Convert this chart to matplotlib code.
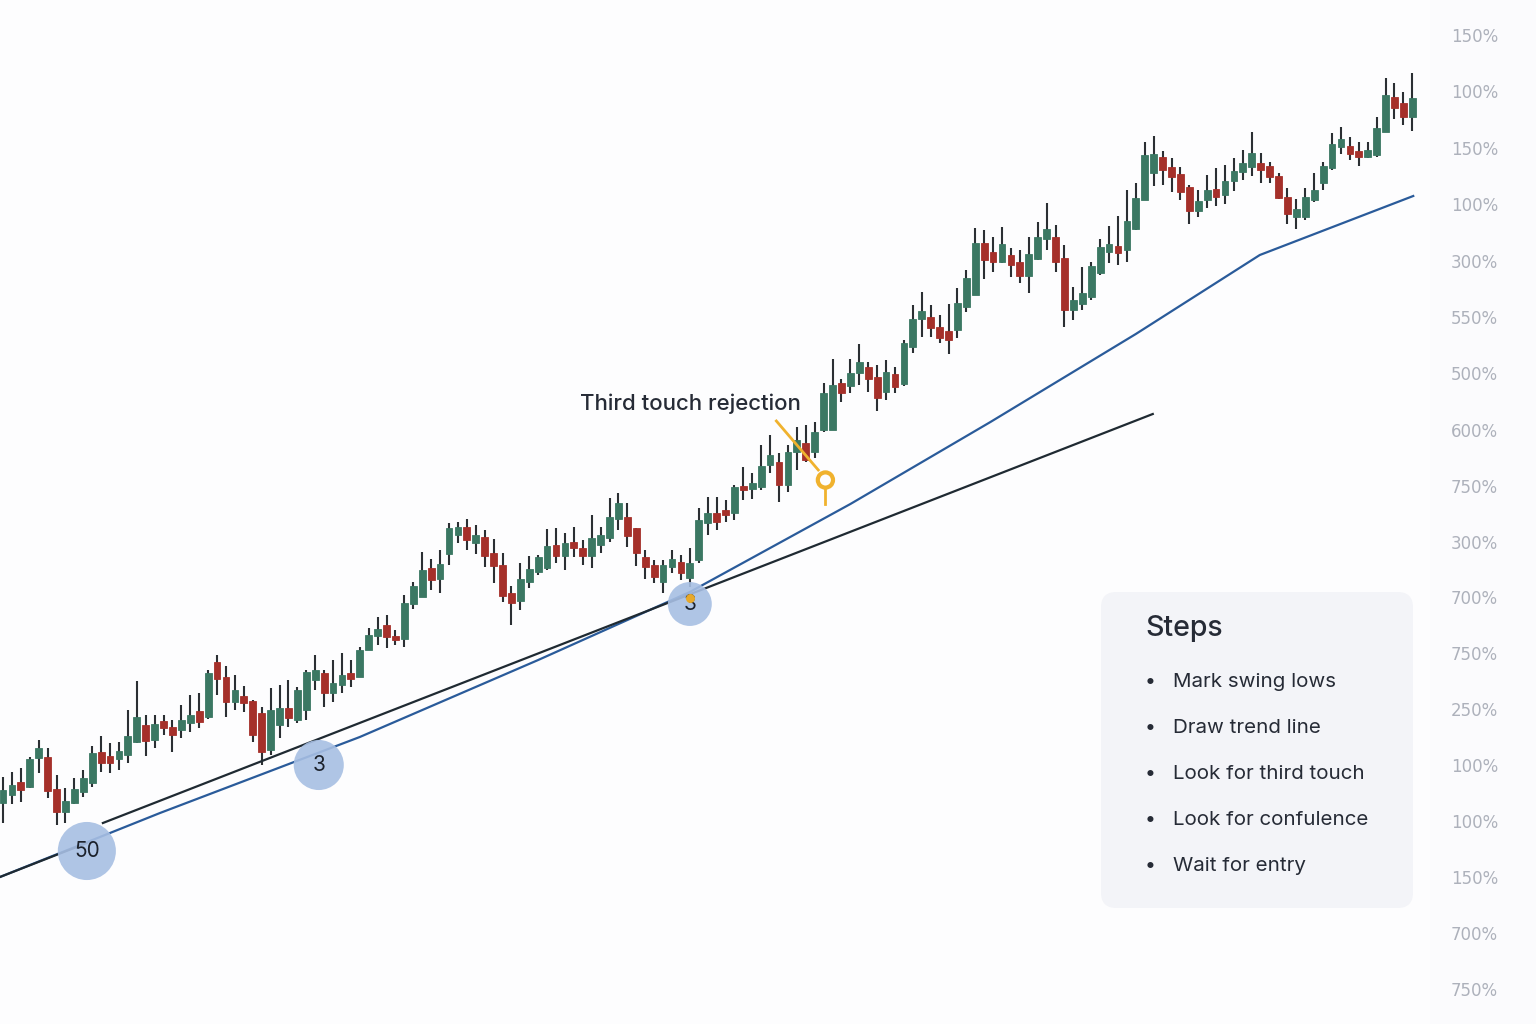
import numpy as np
import matplotlib.pyplot as plt
from matplotlib.patches import FancyBboxPatch

plt.rcParams['font.family'] = ['Inter', 'DejaVu Sans']

# candle data (oldest -> newest), arbitrary price units
opens = [
    221, 229, 242, 237, 266, 267, 235, 212, 221, 232, 241, 272, 268, 265, 269, 282, 299, 284, 303, 297,
    294, 301, 313, 307, 362, 347, 322, 328, 323, 311, 274, 299, 316, 304, 314, 344, 351, 331, 339, 351, 347,
    374, 388, 399, 388, 385, 420, 427, 456, 445, 470, 489, 497, 481, 487, 471, 459, 431, 423, 442, 452,
    456, 479, 468, 482, 476, 468, 479, 486, 505, 507, 496, 467, 459, 442, 457, 462, 446, 464, 501,
    511, 514, 511, 538, 535, 537, 559, 562, 539, 572, 581, 572, 594, 594, 641,
    638, 651, 657, 647, 632, 650, 640, 677, 705, 707, 697, 693, 694, 717, 729, 781, 772, 762, 769, 762,
    748, 765, 785, 787, 766, 714, 720, 727, 751, 772, 778, 774, 795,
    824, 851, 867, 857, 850, 837, 813, 824, 835, 829, 843, 852, 857, 861, 858, 848, 827, 807, 807, 824,
    841, 856, 877, 878, 873, 867, 869, 892, 927, 921, 907,
]
closes = [
    234, 239, 234, 265, 276, 233, 212, 223, 235, 246, 271, 261, 261, 273, 288, 307, 283, 300, 296, 289,
    304, 309, 302, 351, 345, 322, 334, 321, 289, 272, 314, 316, 306, 334, 352, 354, 331, 341, 349, 345, 374,
    389, 395, 387, 384, 421, 438, 454, 444, 460, 496, 497, 484, 489, 468, 458, 428, 421, 445, 455, 467,
    478, 468, 481, 476, 468, 486, 489, 507, 521, 488, 471, 457, 447, 459, 465, 451, 461, 504, 511,
    502, 509, 537, 534, 541, 558, 569, 539, 572, 584, 564, 592, 631, 639, 631,
    651, 662, 645, 626, 652, 637, 681, 705, 713, 696, 686, 684, 721, 746, 781, 764, 762, 780, 759, 748,
    770, 787, 795, 762, 714, 724, 731, 758, 777, 780, 771, 803, 826,
    869, 870, 854, 847, 832, 813, 823, 834, 827, 843, 853, 861, 871, 854, 847, 826, 810, 815, 827, 834,
    858, 880, 885, 870, 867, 874, 896, 929, 916, 907, 926,
]
highs = [
    247, 252, 256, 267, 284, 276, 249, 236, 246, 254, 278, 288, 281, 282, 314, 343, 309, 309, 309, 304,
    319, 329, 331, 354, 369, 358, 349, 338, 324, 317, 336, 339, 344, 337, 354, 369, 354, 364, 371, 364, 377,
    396, 407, 409, 394, 429, 442, 472, 465, 474, 501, 502, 505, 499, 494, 485, 471, 438, 461, 468, 469,
    495, 496, 491, 497, 484, 509, 497, 526, 531, 521, 496, 474, 464, 464, 474, 469, 476, 516, 527,
    527, 524, 539, 557, 551, 579, 589, 571, 579, 597, 599, 602, 641, 665, 645,
    665, 680, 662, 659, 664, 657, 684, 719, 732, 719, 709, 720, 736, 754, 796, 794, 787, 797, 776, 774,
    787, 802, 821, 799, 779, 737, 757, 762, 785, 798, 808, 834, 841,
    882, 888, 873, 866, 857, 839, 834, 849, 856, 859, 866, 874, 892, 871, 862, 851, 836, 825, 836, 851,
    862, 891, 897, 887, 882, 882, 907, 946, 941, 932, 951,
]
lows = [
    201, 220, 222, 236, 251, 226, 199, 201, 220, 227, 237, 252, 251, 254, 261, 281, 268, 276, 289, 272,
    286, 292, 296, 305, 329, 307, 314, 312, 282, 259, 269, 286, 297, 301, 304, 334, 317, 322, 331, 337, 347,
    374, 379, 376, 379, 377, 415, 427, 434, 431, 459, 481, 474, 470, 457, 441, 422, 399, 414, 436, 449,
    454, 461, 454, 467, 459, 456, 471, 482, 494, 477, 458, 445, 441, 431, 451, 444, 437, 461, 489,
    494, 502, 504, 524, 525, 534, 551, 522, 532, 554, 562, 566, 592, 594, 622,
    631, 639, 632, 613, 624, 631, 638, 671, 687, 687, 681, 670, 686, 712, 729, 745, 752, 761, 747, 741,
    731, 764, 774, 752, 697, 704, 714, 724, 749, 761, 759, 762, 794,
    824, 838, 839, 832, 824, 800, 807, 816, 818, 820, 833, 844, 848, 841, 841, 825, 800, 795, 804, 822,
    834, 854, 870, 864, 858, 866, 867, 892, 905, 899, 893,
]

# trend lines and touch markers (candle index, price)
trend_x = [11.2, 128.9]
trend_y = [201, 610]
curve_x = [-0.34, 17.6, 40.0, 60.0, 77.0, 95.0, 110.7, 127.0, 140.9, 158.1]
curve_y = [147, 211, 287, 364, 432, 520, 602, 690, 769, 828]
touch_x = [9.4, 35.4, 77.0]
touch_y = [173, 259, 420]
touch_labels = ["50", "3", "3"]
touch_sizes = [1750, 1300, 1000]

axis_ticks = [989, 933, 876, 820, 763, 707, 651, 594, 538, 482, 427, 371, 315, 259, 203, 147, 91, 35]
axis_labels = ["150%", "100%", "150%", "100%", "300%", "550%", "500%", "600%", "750%", "300%",
               "700%", "750%", "250%", "100%", "100%", "150%", "700%", "750%"]

steps = ["Mark swing lows", "Draw trend line", "Look for third touch",
         "Look for confulence", "Wait for entry"]

GREEN = "#3b7863"
RED = "#a5302a"
WICK = "#2b2f33"
YELLOW = "#f0b22e"
INK = "#262b36"

fig = plt.figure(figsize=(15.36, 10.24), dpi=100)
fig.patch.set_facecolor("#fbfbfd")
ax = fig.add_axes([0, 0, 1430 / 1536, 1])
ax.set_facecolor("#fdfdfe")

o = np.array(opens)
c = np.array(closes)
h = np.array(highs)
l = np.array(lows)
x = np.arange(len(o))
cols = np.where(c >= o, GREEN, RED)

ax.vlines(x, l, h, color=WICK, linewidth=1.5, zorder=2)
ax.bar(x, np.abs(c - o) + 0.5, bottom=np.minimum(o, c), width=0.76,
       color=cols, edgecolor=cols, linewidth=0.6, zorder=3)

# lines
ax.plot(curve_x, curve_y, color="#2a5b9a", linewidth=1.6, zorder=4)
ax.plot(curve_x[:1] + [9.4], curve_y[:1] + [181], color="#1f2a32", linewidth=1.6, zorder=4)
ax.plot(trend_x, trend_y, color="#1f2a32", linewidth=1.6, zorder=4)

# touch circles
ax.scatter(touch_x, touch_y, s=touch_sizes, color="#a7bfe3", alpha=0.9,
           edgecolors="none", zorder=5)
for tx, ty, lab in zip(touch_x, touch_y, touch_labels):
    ax.text(tx, ty, lab, ha="center", va="center", fontsize=15, color="#1c222c", zorder=6)
ax.scatter([77.0], [426], s=30, color="#e8a92a", zorder=6)

# rejection annotation
ax.text(77.1, 620, "Third touch rejection", ha="center", va="center",
        fontsize=16, fontweight="medium", color=INK, zorder=6)
ax.plot([86.7, 91.4], [603, 554], color=YELLOW, linewidth=2.0, zorder=6)
ax.scatter([92.2], [544], s=120, facecolors="none", edgecolors=YELLOW,
           linewidths=3.0, zorder=6)
ax.plot([92.2, 92.2], [536, 520], color=YELLOW, linewidth=2.0, zorder=6)

ax.set_xlim(-0.336, 159.98)
ax.set_ylim(0, 1024)
for sp in ax.spines.values():
    sp.set_visible(False)
ax.set_xticks([])
ax.yaxis.tick_right()
ax.set_yticks(axis_ticks)
ax.set_yticklabels(axis_labels, family="DejaVu Sans")
ax.tick_params(axis="y", length=0, pad=15, labelsize=12, labelcolor="#adb1bb")

# steps panel
box = FancyBboxPatch((1101 / 1536, 116 / 1024), 312 / 1536, 316 / 1024,
                     boxstyle="round,pad=0,rounding_size=0.01", mutation_aspect=1.5,
                     transform=fig.transFigure, facecolor="#f3f4f8", edgecolor="none", zorder=10)
fig.add_artist(box)
fig.text(1145 / 1536, 1 - 628 / 1024, "Steps", ha="left", va="center",
         fontsize=20.5, fontweight="medium", color=INK, zorder=11)
for k, s in enumerate(steps):
    yy = 1 - (682 + 46 * k) / 1024
    fig.text(1150 / 1536, yy, "\u2022", ha="center", va="center", fontsize=14,
             color=INK, zorder=11)
    fig.text(1173 / 1536, yy, s, ha="left", va="center", fontsize=14.8,
             color=INK, zorder=11)

fig.savefig("out.png", dpi=100, facecolor=fig.get_facecolor())
